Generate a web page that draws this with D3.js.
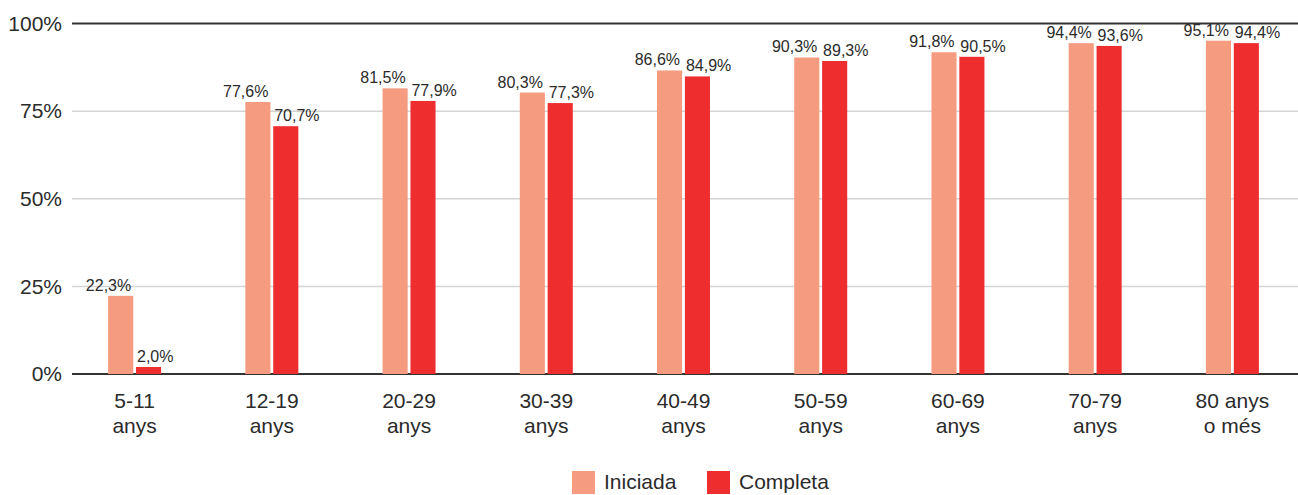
<!DOCTYPE html>
<html>
<head>
<meta charset="utf-8">
<script src="https://cdn.jsdelivr.net/npm/d3@7"></script>
<style>
  body { margin: 0; background: #fff; }
  text { font-family: "Liberation Sans", Arial, Helvetica, sans-serif; fill: #2b2b2b; }
</style>
</head>
<body>
<div id="container"></div>
<script>
// data
const categories = [["5-11", "anys"], ["12-19", "anys"], ["20-29", "anys"], ["30-39", "anys"],
  ["40-49", "anys"], ["50-59", "anys"], ["60-69", "anys"], ["70-79", "anys"], ["80 anys", "o més"]];
const series = ["Iniciada", "Completa"];
const iniciada = [22.3, 77.6, 81.5, 80.3, 86.6, 90.3, 91.8, 94.4, 95.1];
const completa = [2.0, 70.7, 77.9, 77.3, 84.9, 89.3, 90.5, 93.6, 94.4];
const yTicks = [0, 25, 50, 75, 100];

const width = 1298, height = 495;
const colors = { Iniciada: "#f59c80", Completa: "#ee2e2e" };

const svg = d3.select("#container")
  .append("svg")
  .attr("width", width)
  .attr("height", height);

const x = d3.scaleBand()
  .domain(d3.range(categories.length))
  .range([66, 1301]);

const inner = d3.scaleBand()
  .domain(series)
  .range([x.bandwidth() / 2 - 26.5, x.bandwidth() / 2 + 26.5])
  .paddingInner(0.1);

const y = d3.scaleLinear()
  .domain([0, 100])
  .range([374, 23.5]);

const fmt = v => d3.format(".1f")(v).replace(".", ",") + "%";

// gridlines
svg.append("g")
  .selectAll("line")
  .data(yTicks)
  .join("line")
  .attr("x1", 72)
  .attr("x2", width)
  .attr("y1", d => y(d))
  .attr("y2", d => y(d))
  .attr("stroke", d => (d === 0 || d === 100) ? "#333" : "#d4d4d4")
  .attr("stroke-width", d => (d === 0 || d === 100) ? 2 : 1.5);

// y tick labels
svg.append("g")
  .selectAll("text")
  .data(yTicks)
  .join("text")
  .attr("x", 62)
  .attr("y", d => y(d))
  .attr("dy", "0.35em")
  .attr("text-anchor", "end")
  .attr("font-size", 21)
  .text(d => d + "%");

const rows = categories.map((c, i) => ({ i, values: [
  { key: "Iniciada", value: iniciada[i] },
  { key: "Completa", value: completa[i] }
] }));

const group = svg.append("g")
  .selectAll("g")
  .data(rows)
  .join("g")
  .attr("transform", d => `translate(${x(d.i)},0)`);

group.selectAll("rect")
  .data(d => d.values)
  .join("rect")
  .attr("x", d => inner(d.key))
  .attr("width", inner.bandwidth())
  .attr("y", d => y(d.value))
  .attr("height", d => y(0) - y(d.value))
  .attr("fill", d => colors[d.key]);

group.selectAll("text.val")
  .data(d => d.values)
  .join("text")
  .attr("class", "val")
  .attr("x", d => d.key === "Iniciada" ? inner(d.key) + inner.bandwidth() - 2 : inner(d.key) + 1)
  .attr("y", d => y(d.value) - 5)
  .attr("text-anchor", d => d.key === "Iniciada" ? "end" : "start")
  .attr("font-size", 16)
  .text(d => fmt(d.value));

// category labels
const catLabel = svg.append("g")
  .selectAll("text")
  .data(categories)
  .join("text")
  .attr("x", (d, i) => x(i) + x.bandwidth() / 2)
  .attr("y", 408)
  .attr("text-anchor", "middle")
  .attr("font-size", 21);

catLabel.append("tspan")
  .text(d => d[0]);
catLabel.append("tspan")
  .attr("x", (d, i) => x(i) + x.bandwidth() / 2)
  .attr("dy", 25)
  .text(d => d[1]);

// legend
const legendX = [572, 707];
const legend = svg.append("g")
  .selectAll("g")
  .data(series)
  .join("g")
  .attr("transform", (d, i) => `translate(${legendX[i]},471)`);

legend.append("rect")
  .attr("width", 23)
  .attr("height", 23)
  .attr("fill", d => colors[d]);

legend.append("text")
  .attr("x", 32)
  .attr("y", 18)
  .attr("font-size", 21)
  .text(d => d);
</script>
</body>
</html>
